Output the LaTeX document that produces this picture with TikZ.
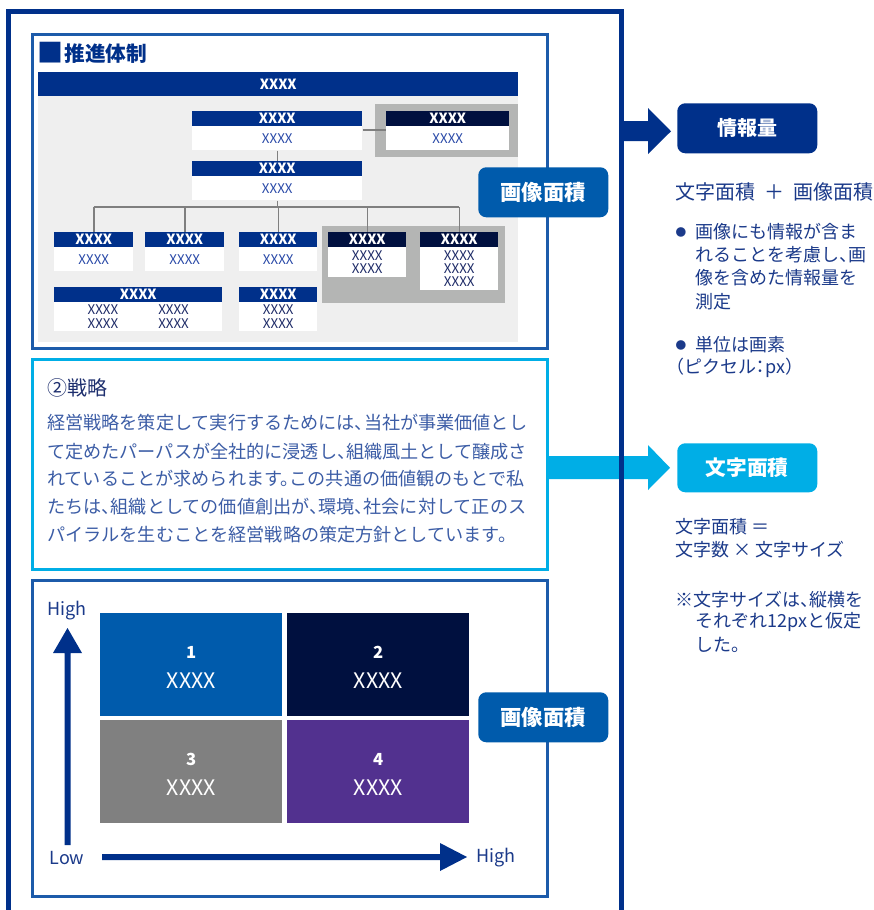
\documentclass[tikz,border=0pt]{standalone}
\usepackage{fontspec}
\setmainfont{Noto Sans CJK JP}[RawFeature=+halt]
\usetikzlibrary{calc}
\definecolor{navy}{HTML}{00308A}
\definecolor{deepnavy}{HTML}{00103F}
\definecolor{midblue}{HTML}{005BAC}
\definecolor{frameblue}{HTML}{1C5BAA}
\definecolor{cyanb}{HTML}{00AEE6}
\definecolor{bggrey}{HTML}{EFEFEF}
\definecolor{surgrey}{HTML}{B4B5B4}
\definecolor{linegrey}{HTML}{7F7F7F}
\definecolor{cellgrey}{HTML}{808080}
\definecolor{purp}{HTML}{52318F}
\definecolor{txtblue}{HTML}{2A4AA8}
\definecolor{txtdark}{HTML}{1F2C68}
\definecolor{bodytxt}{HTML}{3C5DA6}
\definecolor{titletxt}{HTML}{1E2F6E}
\definecolor{sidetxt}{HTML}{1B3A8A}
\newcommand\myfs[1]{\fontsize{#1}{#1}\selectfont}
% name, x1, y1, x2, y(header bottom), y2, header colour, body text, body text colour
\newcommand\myorgbox[9]{%
  \node[ohead, fill=#7, minimum width={(#4-#2)*0.75pt}, minimum height={(#5-#3)*0.75pt}] (h#1) at (#2,#3) {XXXX};
  \node[obody, text=#9, minimum width={(#4-#2)*0.75pt}, minimum height={(#6-#5)*0.75pt}] (b#1) at (#2,#5) {#8};
}
\begin{document}
\begin{tikzpicture}[x=0.75pt,y=-0.75pt,
  ohead/.style={anchor=north west, inner sep=0pt, text=white, font=\bfseries\myfs{10.5}},
  obody/.style={anchor=north west, inner sep=0pt, fill=white, align=center, font=\myfs{10}},
  conn/.style={draw=linegrey, line width=1.1pt},
  panel/.style={anchor=north west, inner sep=0pt, line width=2.25pt, minimum width={515*0.75pt}},
  badge/.style={anchor=north west, rounded corners=6pt, inner sep=0pt, text=white, font=\bfseries\myfs{16}},
  cell/.style={anchor=north west, inner sep=0pt, minimum width={182*0.75pt}, minimum height={103*0.75pt}},
  num/.style={inner sep=0pt, text=white, font=\bfseries\myfs{12.5}},
  cx/.style={inner sep=0pt, text=white, font=\myfs{16}},
  axl/.style={inner sep=0pt, text=sidetxt, font=\myfs{13.5}},
  btxt/.style={anchor=west, inner sep=0pt, text=bodytxt, font=\myfs{13.6}},
  side/.style={anchor=west, inner sep=0pt, text=sidetxt, font=\myfs{13.5}},
  bul/.style={inner sep=0pt, text=sidetxt, font=\myfs{8}}]
\useasboundingbox (0,0) rectangle (874,910);
\fill[white] (0,0) rectangle (874,910);

% ---------- panel 1: organisation chart ----------
\node[panel, draw=frameblue, minimum height={314*0.75pt}] (box1) at (31,33) {};
\node[anchor=west, inner sep=0pt, text=navy, font=\bfseries\myfs{15.5}] (title1) at (37,53) {\raisebox{-1.2pt}{\myfs{19.5}■}\kern1pt 推進体制};
\node[ohead, fill=navy, minimum width={480*0.75pt}, minimum height={24*0.75pt}] (topbar) at (38,72) {XXXX};
\fill[bggrey] (38,96) rectangle (518,342);
\fill[surgrey] (375,104) rectangle (518,157);
\fill[surgrey] (322,226) rectangle (505,303);

\coordinate (ab) at (0,130);
\coordinate (busL) at (93.5,207);
\coordinate (busR) at (459,207);

\myorgbox{A}{192}{111}{362}{126}{150}{navy}{XXXX}{txtblue}
\myorgbox{B}{386}{111}{509}{126}{150}{deepnavy}{XXXX}{txtblue}
\myorgbox{C}{192}{161}{362}{176}{200}{navy}{XXXX}{txtblue}
\myorgbox{D1}{54}{232}{133}{247}{271}{navy}{XXXX}{txtblue}
\myorgbox{D2}{145}{232}{224}{247}{271}{navy}{XXXX}{txtblue}
\myorgbox{D3}{239}{232}{317}{247}{271}{navy}{XXXX}{txtblue}
\myorgbox{D4}{328}{232}{406}{247}{277}{deepnavy}{XXXX\\XXXX}{txtdark}
\myorgbox{D5}{420}{232}{498}{247}{290}{deepnavy}{XXXX\\XXXX\\XXXX}{txtdark}
\myorgbox{E1}{54}{287}{222}{302}{331}{navy}{XXXX\hspace{30pt}XXXX\\XXXX\hspace{30pt}XXXX}{txtdark}
\myorgbox{E2}{239}{287}{317}{302}{331}{navy}{XXXX\\XXXX}{txtdark}

\draw[conn] (bA.east |- ab) -- (bB.west |- ab);
\draw[conn] (bA.south) -- (hC.north);
\draw[conn] (bC.south) -- (bC.south |- busL);
\draw[conn] (busL) -- (busR);
\foreach \n in {D1,D2,D3,D4,D5} {\draw[conn] (h\n.north) -- (h\n.north |- busL);}

\node[badge, fill=midblue, minimum width={130*0.75pt}, minimum height={50*0.75pt}] (img1) at (478,167) {画像面積};

% ---------- panel 2: text ----------
\node[panel, draw=cyanb, minimum height={210*0.75pt}] (box2) at (31,358) {};
\node[anchor=west, inner sep=0pt, text=titletxt, font=\myfs{15}] (t2) at (47,388) {②戦略};
\node[btxt] (l1) at (47,423) {経営戦略を策定して実行するためには、当社が事業価値とし};
\node[btxt] (l2) at (47,451.5) {て定めたパーパスが全社的に浸透し、組織風土として醸成さ};
\node[btxt] (l3) at (47,479) {れていることが求められます。この共通の価値観のもとで私};
\node[btxt] (l4) at (47,507) {たちは、組織としての価値創出が、環境、社会に対して正のス};
\node[btxt] (l5) at (47,535) {パイラルを生むことを経営戦略の策定方針としています。};

% ---------- panel 3: matrix ----------
\node[panel, draw=frameblue, minimum height={316*0.75pt}] (box3) at (31,579) {};
\node[cell, fill=midblue] (c1) at (100,613) {};
\node[cell, fill=deepnavy] (c2) at (287,613) {};
\node[cell, fill=cellgrey] (c3) at (100,720) {};
\node[cell, fill=purp] (c4) at (287,720) {};
\foreach \i in {1,2,3,4} {
  \node[num] (n\i) at ($(c\i.center)+(0,-12.5)$) {\i};
  \node[cx] (x\i) at ($(c\i.center)+(0,15.5)$) {XXXX};
}
\coordinate (vbot) at (67.5,845);
\coordinate (vtip) at (67.5,628);
\fill[navy] (64.5,845) -- (64.5,653) -- (53,653) -- (vtip) -- (82,653) -- (70.5,653) -- (70.5,845) -- cycle;
\coordinate (hleft) at (102,857);
\coordinate (htip) at (467,857);
\fill[navy] (102,854) -- (440,854) -- (440,843) -- (htip) -- (440,871) -- (440,860) -- (102,860) -- cycle;
\node[axl] (hy) at (67,611) {High};
\node[axl] (lo) at (67,858) {Low};
\node[axl, anchor=west] (hx) at (476,858) {High};
\node[badge, fill=midblue, minimum width={130*0.75pt}, minimum height={50*0.75pt}] (img2) at (478,692) {画像面積};

% ---------- right side ----------
\node[badge, fill=navy, font=\bfseries\myfs{15}, minimum width={140*0.75pt}, minimum height={50*0.75pt}] (info) at (677,103) {情報量};
\node[badge, fill=cyanb, font=\bfseries\myfs{15.5}, minimum width={140*0.75pt}, minimum height={49*0.75pt}] (moji) at (677,443) {文字面積};

\fill[cyanb] (546,456) -- (648,456) -- (648,445) -- ($(moji.west)+(-7,0)$) -- (648,490) -- (648,479) -- (546,479) -- cycle;
\draw[navy, line width=3.75pt] (8.5,915) -- (8.5,11) -- (621.5,11) -- (621.5,915);
\fill[navy] (622,121) -- (648,121) -- (648,108) -- ($(info.west)+(-6,3)$) -- (648,154) -- (648,141) -- (622,141) -- cycle;

\node[side, font=\myfs{15}] (r1) at (675,192) {文字面積\hspace{0.45em}＋\hspace{0.45em}画像面積};
\node[bul] (bu1) at (681,232) {●};
\node[side] (r2) at (695,232) {画像にも情報が含ま};
\node[side] (r3) at (695,255) {れることを考慮し、画};
\node[side] (r4) at (695,278) {像を含めた情報量を};
\node[side] (r5) at (695,302) {測定};
\node[bul] (bu2) at (681,345) {●};
\node[side] (r6) at (695,345) {単位は画素};
\node[side] (r7) at (675,368) {（ピクセル：px）};
\node[side] (r8) at (675,527) {文字面積 ＝};
\node[side] (r9) at (675,550) {文字数 × 文字サイズ};
\node[side] (r10) at (675,600) {※文字サイズは、縦横を};
\node[side] (r11) at (695,622) {それぞれ12pxと仮定};
\node[side] (r12) at (695,645) {した。};
\end{tikzpicture}
\end{document}
